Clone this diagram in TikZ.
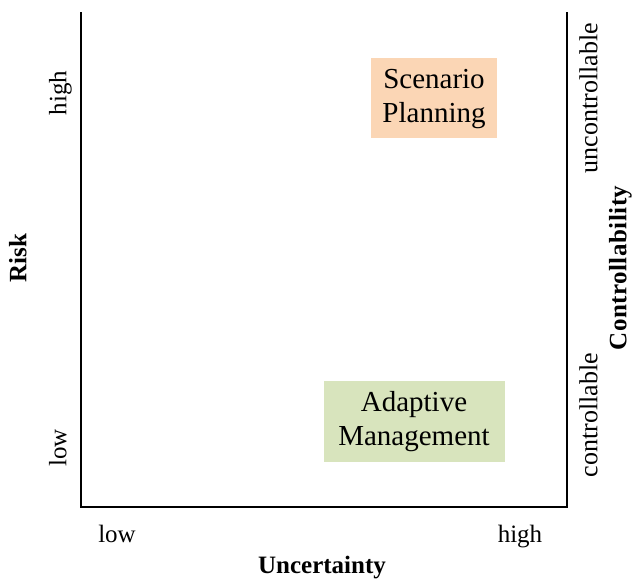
\documentclass[tikz,border=0pt]{standalone}
\usepackage{fontspec}
\setmainfont{Liberation Serif}
\newfontfamily\spacedbold[LetterSpace=2]{Liberation Serif Bold}
\begin{document}
\begin{tikzpicture}[x=1pt,y=-1pt,
  axis/.style={line width=2.6pt, line cap=rect, line join=miter},
  quad/.style={align=center, inner sep=0pt, font=\fontsize{29}{34}\selectfont},
  tick/.style={inner sep=0pt, text height=0.7em, text depth=0.22em, font=\fontsize{25}{28}\selectfont},
  axlabel/.style={inner sep=0pt, text height=0.7em, text depth=0.22em, font=\fontsize{25}{28}\selectfont\bfseries}]
\useasboundingbox (0,0) rectangle (636,579);
% open frame: left, bottom and right sides
\coordinate (tl) at (81,13);
\coordinate (bl) at (81,507);
\coordinate (br) at (567,507);
\coordinate (tr) at (567,13);
\draw[axis] (tl) -- (bl) -- (br) -- (tr);
% quadrant boxes
\fill[fill={rgb,255:red,251;green,214;blue,181}] (371,58) rectangle (497,138);
\node[quad] (sp) at (434,99) {Scenario\\Planning};
\fill[fill={rgb,255:red,216;green,228;blue,189}] (324,381) rectangle (505,462);
\node[quad] (am) at (414,422) {Adaptive\\Management};
% risk axis
\node[tick, rotate=90] (rhigh) at (64,93) {high};
\node[tick, rotate=90] (rlow) at (64,448) {low};
\node[axlabel, rotate=90] (risk) at (24,258) {Risk};
% controllability axis
\node[tick, rotate=90, font=\fontsize{26}{28}\selectfont] (cunc) at (595,98) {uncontrollable};
\node[tick, rotate=90, font=\fontsize{26}{28}\selectfont] (ccon) at (595,415) {controllable};
\node[axlabel, rotate=90, font=\fontsize{25}{28}\spacedbold] (ctrl) at (624,268) {Controllability};
% uncertainty axis
\node[tick] (ulow) at (117,540) {low};
\node[tick] (uhigh) at (520,540) {high};
\node[axlabel] (unc) at (322,571) {Uncertainty};
\end{tikzpicture}
\end{document}
